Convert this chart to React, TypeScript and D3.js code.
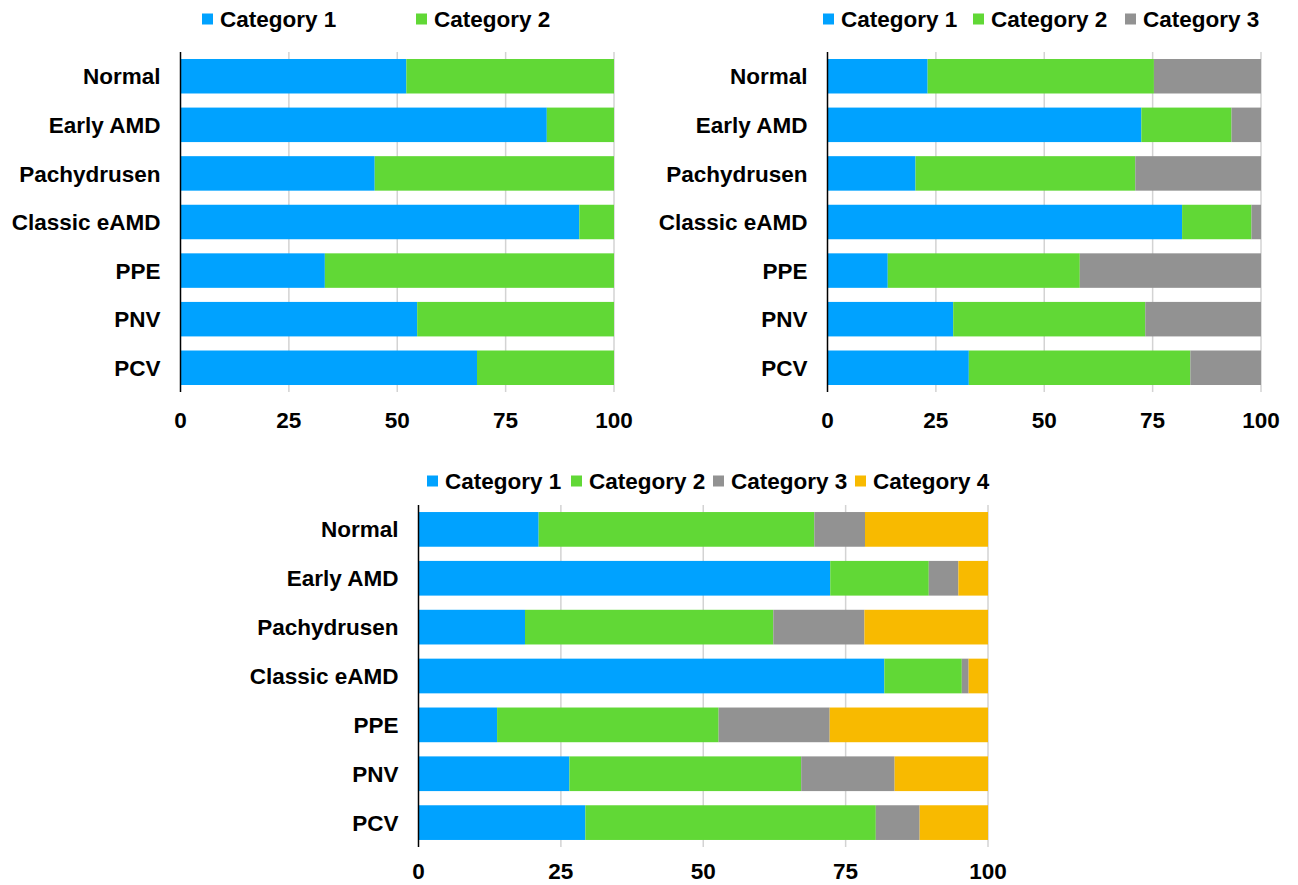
import React from "react";
import * as d3 from "d3";

const categories = ["Normal", "Early AMD", "Pachydrusen", "Classic eAMD", "PPE", "PNV", "PCV"];
const seriesNames = ["Category 1", "Category 2", "Category 3", "Category 4"];
const colors = ["#00A2FF", "#61D836", "#929292", "#F8BA00"];
const ticks = [0, 25, 50, 75, 100];

// Panel A (2 categories)
const a1 = [52.1, 84.5, 44.8, 92.0, 33.3, 54.6, 68.4];
const a2 = [47.9, 15.5, 55.2, 8.0, 66.7, 45.4, 31.6];

// Panel B (3 categories)
const b1 = [23.1, 72.4, 20.3, 81.8, 13.9, 29.0, 32.6];
const b2 = [52.2, 20.8, 50.7, 16.0, 44.3, 44.3, 51.1];
const b3 = [24.7, 6.8, 29.0, 2.2, 41.8, 26.7, 16.3];

// Panel C (4 categories)
const c1 = [21.1, 72.3, 18.7, 81.8, 13.8, 26.5, 29.3];
const c2 = [48.4, 17.3, 43.6, 13.6, 38.9, 40.7, 51.0];
const c3 = [8.9, 5.2, 16.0, 1.2, 19.5, 16.4, 7.7];
const c4 = [21.6, 5.2, 21.7, 3.4, 27.8, 16.4, 12.0];

const FONT = "'Liberation Sans', Arial, sans-serif";
const FS = 22.5;

type PanelProps = {
  series: number[][];
  x0: number;
  x1: number;
  y0: number;
  y1: number;
  legendX: number[];
  legendY: number;
  tickGap: number;
};

function Panel({ series, x0, x1, y0, y1, legendX, legendY, tickGap }: PanelProps) {
  const keys = seriesNames.slice(0, series.length);
  const rows = categories.map((c, i) => {
    const r: any = { cat: c };
    keys.forEach((k, j) => (r[k] = series[j][i]));
    return r;
  });
  const stacked = d3.stack<any>().keys(keys)(rows);
  const x = d3.scaleLinear().domain([0, 100]).range([x0, x1]);
  const y = d3
    .scaleBand<string>()
    .domain(categories)
    .range([y0, y1])
    .paddingInner(0.29)
    .paddingOuter(0.144);

  return (
    <g>
      {ticks.slice(1).map((t) => (
        <line key={t} x1={x(t)} x2={x(t)} y1={y0} y2={y1} stroke="#d3d3d3" strokeWidth={1.5} />
      ))}
      {stacked.map((s, si) => (
        <g key={s.key} fill={colors[si]}>
          {s.map((d, i) => (
            <rect
              key={i}
              x={x(d[0])}
              y={y(categories[i])}
              width={Math.max(0, x(d[1]) - x(d[0]))}
              height={y.bandwidth()}
            />
          ))}
        </g>
      ))}
      <line x1={x(0)} x2={x(0)} y1={y0} y2={y1} stroke="#000" strokeWidth={1.5} />
      {categories.map((c) => (
        <text
          key={c}
          x={x0 - 20}
          y={(y(c) as number) + y.bandwidth() / 2}
          dy="0.36em"
          textAnchor="end"
          fontFamily={FONT}
          fontWeight="bold"
          fontSize={FS}
          fill="#000"
        >
          {c}
        </text>
      ))}
      {ticks.map((t) => (
        <text
          key={t}
          x={x(t)}
          y={y1 + tickGap}
          dy="0.36em"
          textAnchor="middle"
          fontFamily={FONT}
          fontWeight="bold"
          fontSize={FS}
          fill="#000"
        >
          {t}
        </text>
      ))}
      {keys.map((k, i) => (
        <g key={k}>
          <rect x={legendX[i]} y={legendY - 5.5} width={11} height={11} fill={colors[i]} />
          <text
            x={legendX[i] + 18}
            y={legendY}
            dy="0.36em"
            fontFamily={FONT}
            fontWeight="bold"
            fontSize={FS}
            fill="#000"
          >
            {k}
          </text>
        </g>
      ))}
    </g>
  );
}

export default function App() {
  return (
    <svg
      width={1298}
      height={885}
      style={{ position: "fixed", left: 0, top: 0, background: "#fff" }}
    >
      <rect width={1298} height={885} fill="#fff" />
      <Panel series={[a1, a2]} x0={180.5} x1={614} y0={52} y1={392} legendX={[202, 416]} legendY={19} tickGap={28} />
      <Panel series={[b1, b2, b3]} x0={827.5} x1={1261} y0={52} y1={392} legendX={[823, 973, 1125]} legendY={19} tickGap={28} />
      <Panel series={[c1, c2, c3, c4]} x0={418.5} x1={988} y0={505} y1={847} legendX={[427, 571, 713, 855]} legendY={481} tickGap={24} />
    </svg>
  );
}
